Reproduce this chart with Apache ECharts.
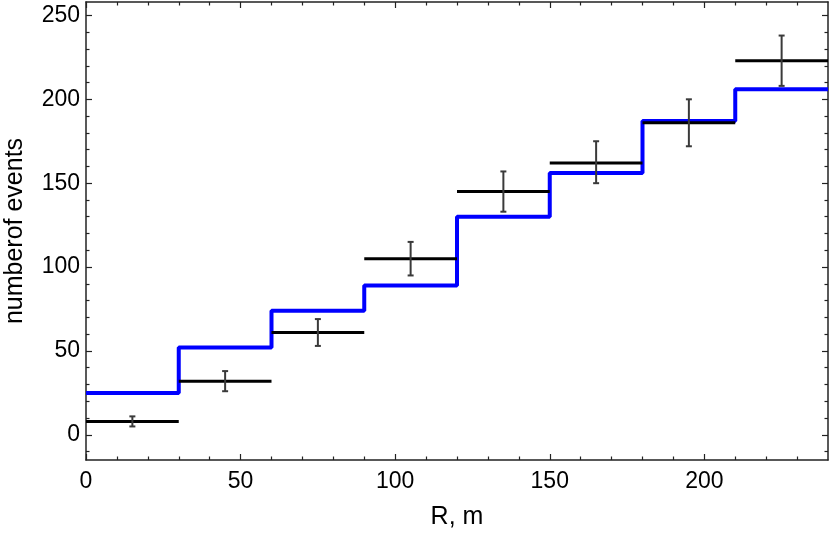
<!DOCTYPE html>
<html lang="en">
<head>
    <meta charset="UTF-8">
    <title>number of events vs R</title>
    <script src="https://cdn.jsdelivr.net/npm/echarts@6/dist/echarts.min.js"></script>
</head>
<body style="margin:0">
<div id="mybox" style="height: 535px;width: 830px;"></div>
<script>
    // bins of R (m)
    var binStart = [0, 30, 60, 90, 120, 150, 180, 210];
    var binEnd = [30, 60, 90, 120, 150, 180, 210, 240];
    // model histogram (blue)
    var modelCounts = [25, 52, 74, 89, 130, 156, 187, 206];
    // measured (black) with error bars
    var dataCounts = [8, 32, 61, 105, 145, 162, 186, 223];
    var errLow = [5, 26, 53, 95, 133, 150, 172, 208];
    var errHigh = [11, 38, 69, 115, 157, 175, 200, 238];
    // ticks
    var xMajor = [0, 50, 100, 150, 200];
    var xMinor = [10, 20, 30, 40, 60, 70, 80, 90, 110, 120, 130, 140, 160, 170, 180, 190, 210, 220, 230];
    var yMajor = [0, 50, 100, 150, 200, 250];
    var yMinor = [-10, 10, 20, 30, 40, 60, 70, 80, 90, 110, 120, 130, 140, 160, 170, 180, 190, 210, 220, 230, 240];

    var frame = '#222';
    var font = 'Liberation Sans, Arial, sans-serif';

    // step line points
    var stepData = [];
    for (var i = 0; i < binStart.length; i++) {
        stepData.push([binStart[i], modelCounts[i]]);
    }
    stepData.push([binEnd[binEnd.length - 1], modelCounts[modelCounts.length - 1]]);

    var barData = [];
    for (var i = 0; i < binStart.length; i++) {
        barData.push([binStart[i], binEnd[i], dataCounts[i], errLow[i], errHigh[i]]);
    }

    function xAx(pos, ticks, len, line, labels) {
        return {
            type: 'value', position: pos, min: 0, max: 240,
            axisLine: {show: line, onZero: false, lineStyle: {color: frame, width: 1.5}},
            axisTick: {show: true, inside: true, length: len, customValues: ticks, lineStyle: {color: frame, width: 1.2}},
            axisLabel: labels ? {show: true, customValues: xMajor, color: '#000', fontSize: 23, fontFamily: font, margin: 10} : {show: false},
            splitLine: {show: false}
        };
    }
    function yAx(pos, ticks, len, line, labels) {
        return {
            type: 'value', position: pos, min: -15, max: 258,
            axisLine: {show: line, onZero: false, lineStyle: {color: frame, width: 1.5}},
            axisTick: {show: true, inside: true, length: len, customValues: ticks, lineStyle: {color: frame, width: 1.2}},
            axisLabel: labels ? {show: true, customValues: yMajor, color: '#000', fontSize: 23, fontFamily: font, margin: 6} : {show: false},
            splitLine: {show: false}
        };
    }

    var xAxes = [xAx('bottom', xMajor, 6, true, true), xAx('bottom', xMinor, 3.5, false, false),
        xAx('top', xMajor, 6, true, false), xAx('top', xMinor, 3.5, false, false)];
    xAxes[0].name = 'R, m';
    xAxes[0].nameLocation = 'middle';
    xAxes[0].nameGap = 45;
    xAxes[0].nameTextStyle = {color: '#000', fontSize: 25, fontFamily: font};

    var yAxes = [yAx('left', yMajor, 6, true, true), yAx('left', yMinor, 3.5, false, false),
        yAx('right', yMajor, 6, true, false), yAx('right', yMinor, 3.5, false, false)];
    yAxes[0].name = 'numberof events';
    yAxes[0].nameLocation = 'middle';
    yAxes[0].nameGap = 58;
    yAxes[0].nameTextStyle = {color: '#000', fontSize: 25, fontFamily: font};

    var mychart = echarts.init(document.getElementById('mybox'));
    mychart.setOption({
        animation: false,
        grid: {left: 86, right: 2, top: 2, bottom: 75, containLabel: false, outerBoundsMode: 'none'},
        xAxis: xAxes,
        yAxis: yAxes,
        series: [{
            name: 'model',
            type: 'line',
            step: 'end',
            data: stepData,
            symbol: 'none',
            lineStyle: {color: '#0000ff', width: 4},
            z: 2
        }, {
            name: 'data',
            type: 'custom',
            data: barData,
            z: 3,
            renderItem: function (params, api) {
                var a = api.coord([api.value(0), api.value(2)]);
                var b = api.coord([api.value(1), api.value(2)]);
                var xc = (api.value(0) + api.value(1)) / 2;
                var lo = api.coord([xc, api.value(3)]);
                var hi = api.coord([xc, api.value(4)]);
                var cap = 3;
                var eb = {stroke: '#3a3a3a', lineWidth: 2};
                return {
                    type: 'group',
                    children: [
                        {type: 'line', shape: {x1: a[0], y1: a[1], x2: b[0], y2: b[1]}, style: {stroke: '#000', lineWidth: 3}},
                        {type: 'line', shape: {x1: lo[0], y1: lo[1], x2: hi[0], y2: hi[1]}, style: eb},
                        {type: 'line', shape: {x1: lo[0] - cap, y1: lo[1], x2: lo[0] + cap, y2: lo[1]}, style: eb},
                        {type: 'line', shape: {x1: hi[0] - cap, y1: hi[1], x2: hi[0] + cap, y2: hi[1]}, style: eb}
                    ]
                };
            }
        }]
    });
</script>
</body>
</html>
